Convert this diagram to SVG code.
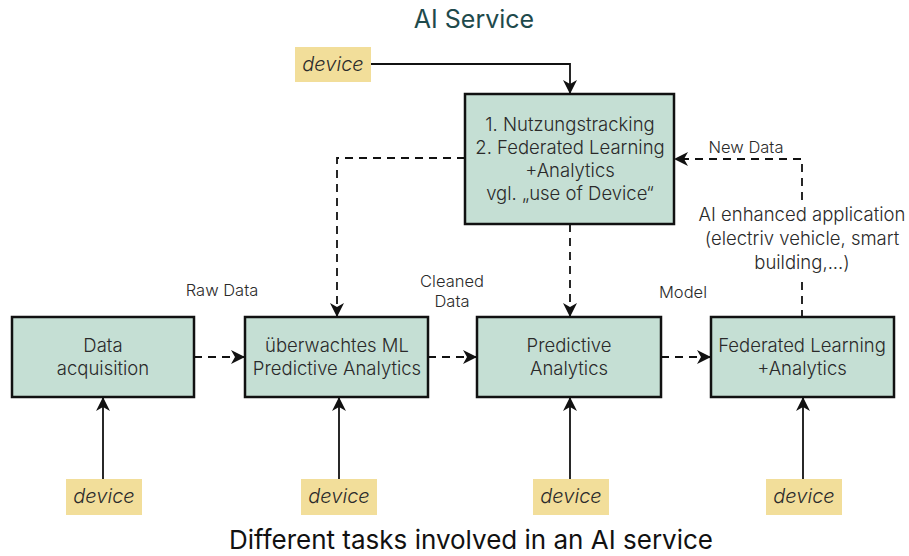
<svg xmlns="http://www.w3.org/2000/svg" width="909" height="556" viewBox="0 0 909 556">
<defs>
<style>
text{font-family:Inter,"Noto Sans",sans-serif;fill:#2a2a2a;font-weight:300;}
.node{fill:#c5dfd4;stroke:#111;stroke-width:2.5;}
.dev{fill:#f2de9a;}
.devt{font-size:20px;font-style:italic;text-anchor:middle;}
.nt{font-size:18.5px;text-anchor:middle;}
.lbl{font-size:16.5px;text-anchor:middle;}
.solid{fill:none;stroke:#111;stroke-width:1.8;}
.dash{fill:none;stroke:#111;stroke-width:1.8;stroke-dasharray:8,6;}
</style>
<marker id="ah" viewBox="0 0 14 14" refX="13" refY="7" markerWidth="14" markerHeight="14" markerUnits="userSpaceOnUse" orient="auto">
<path d="M0,0 L14,7 L0,14 L4,7 z" fill="#111"/>
</marker>
</defs>
<rect width="909" height="556" fill="#fff"/>
<text x="474" y="28" style="font-size:25px;fill:#1e4a4c;text-anchor:middle;font-weight:400">AI Service</text>
<g id="connectors">
<path class="solid" d="M371,64 H570 V93" marker-end="url(#ah)"/>
<path class="dash" d="M465,158 H337 V316" marker-end="url(#ah)"/>
<path class="dash" d="M570,224 V316" marker-end="url(#ah)"/>
<path class="dash" d="M194,357 H244" marker-end="url(#ah)"/>
<path class="dash" d="M428,357 H476" marker-end="url(#ah)"/>
<path class="dash" d="M661,357 H710" marker-end="url(#ah)"/>
<path class="dash" d="M802,318 V278"/>
<path class="dash" d="M802,200 V159 H675" marker-end="url(#ah)"/>
<path class="solid" d="M103,479 V398" marker-end="url(#ah)"/>
<path class="solid" d="M339,479 V398" marker-end="url(#ah)"/>
<path class="solid" d="M570,479 V398" marker-end="url(#ah)"/>
<path class="solid" d="M803,479 V398" marker-end="url(#ah)"/>
<text class="lbl" x="746" y="153">New Data</text>
<text class="lbl" x="222" y="296">Raw Data</text>
<text class="lbl" x="452" y="287">Cleaned</text>
<text class="lbl" x="452" y="307">Data</text>
<text class="lbl" x="683" y="298">Model</text>
<text class="nt" x="802" y="221">AI enhanced application</text>
<text class="nt" x="802" y="245">(electriv vehicle, smart</text>
<text class="nt" x="802" y="269">building,...)</text>
</g>
<g id="device-top">
<rect class="dev" x="295" y="47" width="76" height="35"/>
<text class="devt" x="333" y="71">device</text>
</g>
<g id="node-top">
<rect class="node" x="465" y="94" width="209" height="130"/>
<text class="nt" x="570" y="131">1. Nutzungstracking</text>
<text class="nt" x="570" y="154">2. Federated Learning</text>
<text class="nt" x="570" y="177">+Analytics</text>
<text class="nt" x="570" y="200">vgl. „use of Device“</text>
</g>
<g id="node-acq">
<rect class="node" x="12" y="317" width="182" height="80"/>
<text class="nt" x="103" y="352">Data</text>
<text class="nt" x="103" y="375">acquisition</text>
</g>
<g id="node-ml">
<rect class="node" x="245" y="317" width="183" height="80"/>
<text class="nt" x="337" y="352">überwachtes ML</text>
<text class="nt" x="337" y="375">Predictive Analytics</text>
</g>
<g id="node-pa">
<rect class="node" x="477" y="317" width="184" height="80"/>
<text class="nt" x="569" y="352">Predictive</text>
<text class="nt" x="569" y="375">Analytics</text>
</g>
<g id="node-fl">
<rect class="node" x="711" y="317" width="183" height="80"/>
<text class="nt" x="802" y="352">Federated Learning</text>
<text class="nt" x="802" y="375">+Analytics</text>
</g>
<g id="device-1"><rect class="dev" x="66" y="479" width="76" height="36"/><text class="devt" x="104" y="503">device</text></g>
<g id="device-2"><rect class="dev" x="301" y="479" width="76" height="36"/><text class="devt" x="339" y="503">device</text></g>
<g id="device-3"><rect class="dev" x="533" y="479" width="76" height="36"/><text class="devt" x="571" y="503">device</text></g>
<g id="device-4"><rect class="dev" x="766" y="479" width="76" height="36"/><text class="devt" x="804" y="503">device</text></g>
<text x="471" y="549" style="font-size:26px;fill:#111;text-anchor:middle;font-weight:400">Different tasks involved in an AI service</text>
</svg>
